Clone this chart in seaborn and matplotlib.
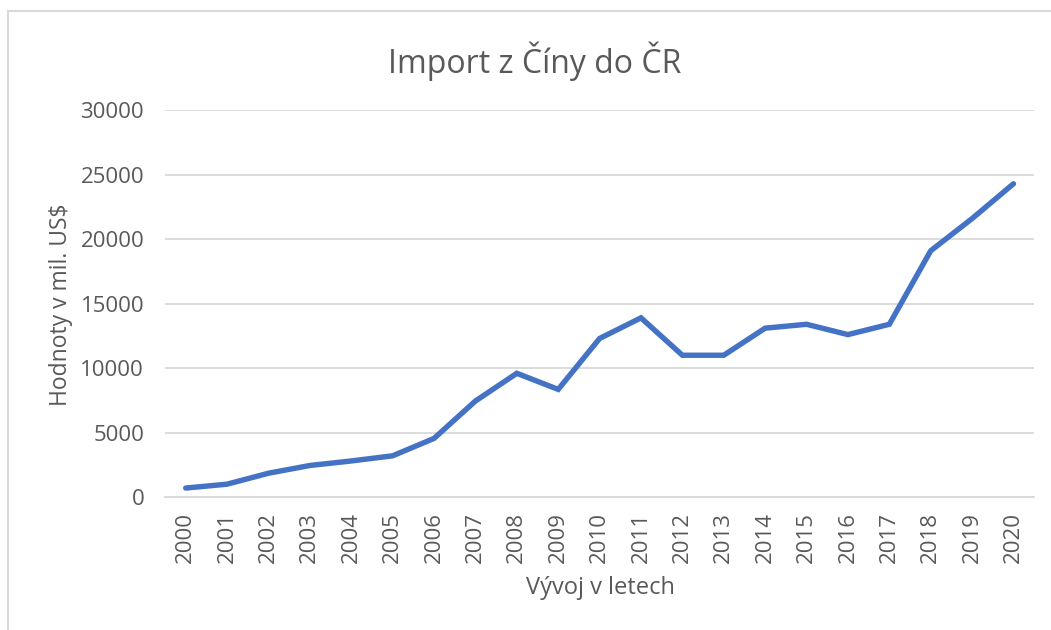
import matplotlib
matplotlib.use("Agg")
import matplotlib.pyplot as plt
import seaborn as sns
import pandas as pd
from matplotlib.patches import Rectangle

# data (mil. US$)
years = list(range(2000, 2021))
imports = [700, 1000, 1850, 2450, 2800, 3200, 4550, 7450, 9600, 8350,
           12300, 13900, 11000, 11000, 13100, 13400, 12600, 13400,
           19100, 21600, 24300]
y_ticks = [0, 5000, 10000, 15000, 20000, 25000, 30000]

TEXT = "#595959"
GRID = "#D9D9D9"
LINE = "#4472C4"

sns.set_theme(style="white")
plt.rcParams["font.family"] = ["Open Sans", "DejaVu Sans"]

df = pd.DataFrame({"rok": years, "hodnota": imports})

fig = plt.figure(figsize=(10.51, 6.30), dpi=100)
ax = fig.add_axes([0.157, 0.211, 0.827, 0.614])

sns.lineplot(data=df, x="rok", y="hodnota", ax=ax, color=LINE,
             linewidth=3.9, solid_capstyle="round", solid_joinstyle="miter")

ax.set_xlim(years[0] - 0.5, years[-1] + 0.5)
ax.set_ylim(0, 30000)
ax.set_yticks(y_ticks)
ax.set_yticklabels([str(v) for v in y_ticks])
ax.set_xticks(years)
ax.set_xticklabels([str(y) for y in years], rotation=90)
ax.tick_params(axis="both", length=0, labelsize=16, labelcolor=TEXT)
ax.tick_params(axis="y", pad=15)
ax.tick_params(axis="x", pad=11)

ax.grid(axis="y", color=GRID, linewidth=1.3)
ax.set_axisbelow(True)
for side in ["top", "right", "left"]:
    ax.spines[side].set_visible(False)
ax.spines["bottom"].set_color(GRID)
ax.spines["bottom"].set_linewidth(1.3)

ax.set_xlabel("")
ax.set_ylabel("")
fig.text(0.509, 0.902, "Import z Číny do ČR", ha="center", va="center",
         fontsize=23, color=TEXT)
fig.text(0.571, 0.067, "Vývoj v letech", ha="center", va="center",
         fontsize=17, color=TEXT)
fig.text(0.058, 0.517, "Hodnoty v mil. US$", ha="center", va="center",
         rotation=90, fontsize=16.5, color=TEXT)

# light chart border (only left and top visible in the crop)
fig.patches.append(Rectangle((8 / 1051, -0.1), 1.2, 1.1 - 11 / 630,
                             transform=fig.transFigure, fill=False,
                             edgecolor=GRID, linewidth=1.5))

fig.savefig("out.png", dpi=100)
